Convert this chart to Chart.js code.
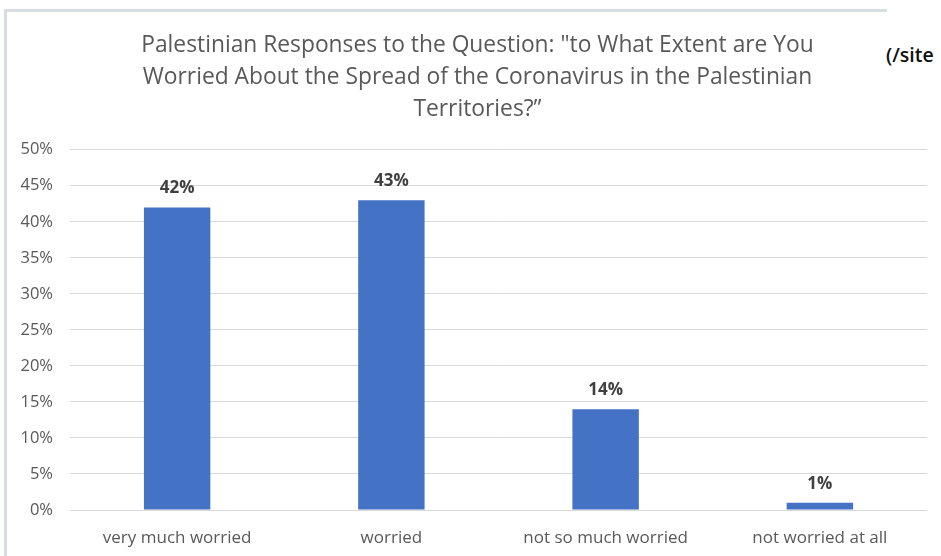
<!DOCTYPE html>
<html>
<head>
<meta charset="utf-8">
<script src="https://cdn.jsdelivr.net/npm/chart.js@4"></script>
<style>
  body { margin: 0; background: #fff; }
  #wrap { position: relative; width: 941px; height: 556px; overflow: hidden; }
  #frame { position: absolute; left: 4px; top: 9px; width: 880px; height: 560px;
           border-top: 3px solid #d6dde3; border-left: 3px solid #d6dde3; }
  #site { position: absolute; left: 886px; top: 41px; font: 600 19.5px "Open Sans", sans-serif;
          color: #111; background: #fff; padding-right: 10px; white-space: nowrap; }
  canvas { position: absolute; left: 0; top: 0; }
</style>
</head>
<body>
<div id="wrap">
  <canvas id="chart" width="941" height="556"></canvas>
  <div id="frame"></div>
  <div id="site">(/site</div>
</div>
<script>
const categories = ['very much worried', 'worried', 'not so much worried', 'not worried at all'];
const shares = [42, 43, 14, 1];
const yTicks = [0, 5, 10, 15, 20, 25, 30, 35, 40, 45, 50];
const titleLines = [
  'Palestinian Responses to the Question: "to What Extent are You',
  'Worried About the Spread of the Coronavirus in the Palestinian',
  'Territories?\u201d'
];

/* value labels above bars */
const barLabels = {
  id: 'barLabels',
  afterDatasetsDraw(c) {
    const ctx = c.ctx;
    const meta = c.getDatasetMeta(0);
    ctx.save();
    ctx.font = 'bold 17px "Open Sans", sans-serif';
    ctx.fillStyle = '#404040';
    ctx.textAlign = 'center';
    ctx.textBaseline = 'middle';
    meta.data.forEach((bar, i) => {
      ctx.fillText(shares[i] + '%', bar.x, bar.y - 19);
    });
    ctx.restore();
  }
};

new Chart(document.getElementById('chart'), {
  type: 'bar',
  data: {
    labels: categories,
    datasets: [{
      data: shares,
      backgroundColor: '#4472C4',
      barPercentage: 0.62,
      categoryPercentage: 0.5
    }]
  },
  options: {
    responsive: false,
    animation: false,
    layout: { padding: { left: 14, right: 0, top: 30, bottom: 0 } },
    plugins: {
      legend: { display: false },
      tooltip: { enabled: false },
      title: {
        display: true,
        text: titleLines,
        color: '#595959',
        font: { family: '"Open Sans", sans-serif', size: 22.8, weight: 'normal', lineHeight: 1.4 },
        padding: { top: 0, bottom: 24 }
      }
    },
    scales: {
      x: {
        afterFit: s => { s.height = 46; },
        grid: { display: false },
        border: { display: false },
        ticks: { color: '#595959', font: { family: '"Open Sans", sans-serif', size: 17 }, padding: 10 }
      },
      y: {
        min: 0,
        max: 50,
        afterBuildTicks: s => { s.ticks = yTicks.map(v => ({ value: v })); },
        afterFit: s => { s.width = 56; },
        grid: { color: '#d9d9d9', drawTicks: false },
        border: { display: false },
        ticks: {
          color: '#595959',
          font: { family: '"Open Sans", sans-serif', size: 16.5 },
          padding: 17,
          callback: v => v + '%'
        }
      },
      /* empty right margin so the plot ends where the original does */
      gap: {
        position: 'right',
        afterFit: s => { s.width = 14; },
        grid: { display: false },
        border: { display: false },
        ticks: { display: false }
      }
    }
  },
  plugins: [barLabels]
});
</script>
</body>
</html>
